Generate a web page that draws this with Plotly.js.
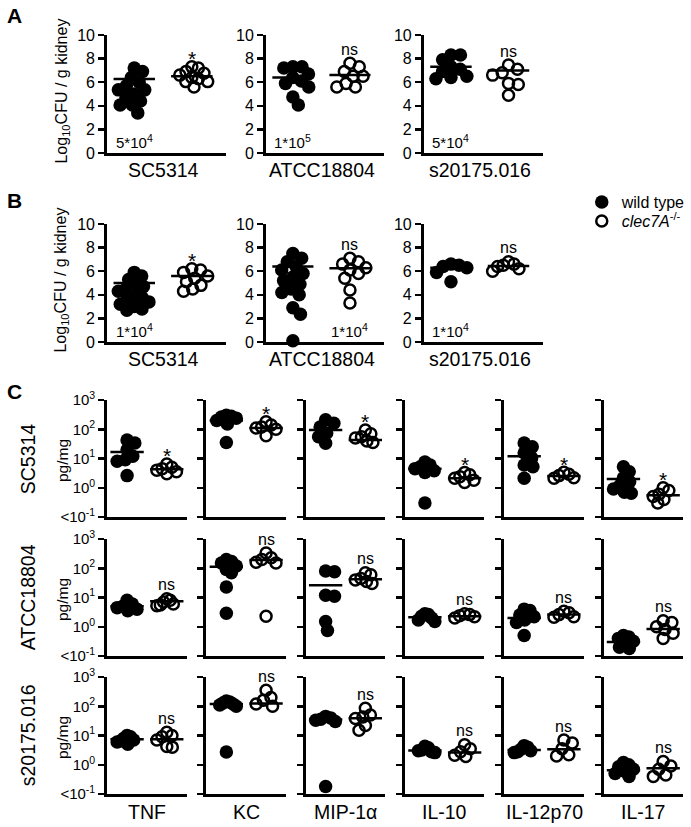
<!DOCTYPE html>
<html><head><meta charset="utf-8">
<script src="https://cdn.plot.ly/plotly-3.0.1.min.js"></script>
<style>html,body{margin:0;padding:0;background:#fff}#chart{width:691px;height:827px}</style>
</head><body><div id="chart"></div>
<script>
// ================= DATA =================
const groupNames = ['wild type', '<i>clec7A</i><sup>-/-</sup>'];
const strainsAB = ['SC5314', 'ATCC18804', 's20175.016'];
const doseA = ['5*10<sup>4</sup>', '1*10<sup>5</sup>', '5*10<sup>4</sup>'];
const doseB = ['1*10<sup>4</sup>', '1*10<sup>4</sup>', '1*10<sup>4</sup>'];
const sigA = ['*', 'ns', 'ns'];
const sigB = ['*', 'ns', 'ns'];

// Panel A: Log10 CFU / g kidney
const A_wt = [
  [7.2, 6.9, 6.4, 6.0, 5.7, 5.35, 5.35, 5.0, 4.7, 4.4, 4.07, 4.07, 3.4],
  [7.3, 7.3, 7.2, 6.7, 6.4, 6.1, 5.9, 5.6, 4.75, 4.07],
  [8.3, 8.3, 7.9, 7.3, 7.1, 6.9, 6.5, 6.4, 6.3]
];
const A_ko = [
  [7.3, 7.2, 6.9, 6.75, 6.6, 6.4, 6.3, 6.05, 6.05, 5.6],
  [7.6, 7.3, 6.9, 6.5, 6.5, 5.9, 5.6, 5.6],
  [7.45, 7.1, 6.8, 6.6, 5.9, 5.8, 4.9]
];
const A_wtMean = [6.27, 6.4, 7.3];
const A_koMean = [6.5, 6.6, 7.0];

// Panel B
const B_wt = [
  [5.9, 5.6, 5.3, 5.0, 4.7, 4.5, 4.3, 4.0, 3.8, 3.6, 3.4, 3.2, 3.0, 2.8, 2.7],
  [7.5, 7.1, 6.8, 6.4, 6.1, 5.8, 5.5, 5.2, 4.9, 4.5, 4.2, 4.0, 2.9, 2.35, 0.1],
  [6.6, 6.5, 6.4, 6.3, 5.9, 5.1]
];
const B_ko = [
  [6.2, 6.1, 5.9, 5.6, 5.4, 5.1, 4.8, 4.5, 4.3],
  [7.1, 6.8, 6.6, 6.3, 6.1, 5.8, 5.4, 4.4, 3.3],
  [6.8, 6.6, 6.5, 6.4, 6.2, 6.0]
];
const B_wtMean = [5.0, 6.4, 6.3];
const B_koMean = [5.6, 6.25, 6.45];

// Panel C: cytokines, pg/mg
const cytokines = ['TNF', 'KC', 'MIP-1α', 'IL-10', 'IL-12p70', 'IL-17'];
const strainsC = ['SC5314', 'ATCC18804', 's20175.016'];

const C_wt_SC5314 = [[43, 34, 20, 12, 9, 8, 2.6], [300, 280, 260, 240, 200, 150, 35], [210, 160, 120, 74, 55, 33], [7.6, 6, 5.2, 4.5, 3.8, 3.3, 0.3], [34, 25, 15.5, 10.5, 6, 5.2, 2.1], [5.2, 3.5, 2.2, 1.6, 1.2, 0.9, 0.7, 0.65]];
const C_ko_SC5314 = [[6.5, 5, 4.5, 4, 3.5, 3], [180, 140, 120, 110, 100, 60], [95, 70, 55, 50, 40, 35], [3.3, 2.8, 2.4, 2.1, 1.8, 1.5], [3.4, 2.9, 2.6, 2.2, 2.1], [1.0, 0.8, 0.6, 0.5, 0.4, 0.3]];
const C_wtMean_SC5314 = [16.6, 200, 95, 4.5, 12, 2.0];
const C_koMean_SC5314 = [4.3, 110, 43, 2.1, 2.5, 0.55];
const C_sig_SC5314 = ['*', '*', '*', '*', '*', '*'];

const C_wt_ATCC = [[8, 6, 5, 4.5, 4, 3.5], [200, 170, 150, 120, 90, 70, 23, 2.9], [80, 76, 12, 11, 1.5, 0.75], [2.8, 2.6, 2.3, 2.0, 1.7, 1.5], [4, 3.6, 2.5, 2.2, 1.7, 1.4, 0.5], [0.5, 0.45, 0.4, 0.32, 0.25, 0.2, 0.18]];
const C_ko_ATCC = [[9, 8, 7, 6, 5.5, 5.2], [330, 230, 200, 160, 150, 2.3], [70, 60, 45, 40, 35, 30], [2.8, 2.6, 2.4, 2.2, 2.0], [3.4, 3, 2.6, 2.2, 2.1], [1.6, 1.4, 1.0, 0.8, 0.6, 0.4]];
const C_wtMean_ATCC = [5, 112, 26, 2.1, 2, 0.3];
const C_koMean_ATCC = [7.5, 190, 42, 2.3, 2.6, 0.83];
const C_sig_ATCC = ['ns', 'ns', 'ns', 'ns', 'ns', 'ns'];

const C_wt_s20175 = [[10, 9, 8, 7, 6.5, 6, 5], [150, 140, 130, 120, 110, 100, 2.75], [45, 40, 36, 33, 30, 0.18], [4.3, 3.8, 3.2, 3.0, 2.8, 2.6], [4.5, 4, 3.4, 3, 2.8, 2.6], [1.2, 1.0, 0.85, 0.7, 0.6, 0.5, 0.4]];
const C_ko_s20175 = [[13, 10, 9, 7, 4.2, 4], [350, 200, 160, 120, 100], [85, 50, 43, 38, 22, 15], [4.8, 3.5, 2.8, 2.1, 1.9], [7, 5.5, 3.5, 2.2, 2.0], [1.3, 0.9, 0.7, 0.45, 0.4]];
const C_wtMean_s20175 = [7.5, 120, 35, 3.1, 3.2, 0.65];
const C_koMean_s20175 = [7.4, 125, 39, 2.6, 3.4, 0.76];
const C_sig_s20175 = ['ns', 'ns', 'ns', 'ns', 'ns', 'ns'];

// ================= LAYOUT / DRAWING =================
const W = 691, H = 827;
const FONT = 'Liberation Sans, Arial, Helvetica, sans-serif';
const BLACK = '#000';
const abX = [[108, 228], [268, 387], [427, 547]];
const aY = [35, 153], bY = [224, 342];
const cY = [[400, 517], [539, 656], [677, 794]];
const cX = k => [108 + 100 * k, 188 + 100 * k];
const doseCat = {A: [0, 0, 0], B: [0, 1, 0]};

const layout = {
  width: W, height: H, margin: {l: 0, r: 0, t: 0, b: 0}, autosize: false,
  paper_bgcolor: '#fff', plot_bgcolor: 'rgba(0,0,0,0)',
  font: {family: FONT, color: BLACK, size: 15},
  hovermode: false, showlegend: true, annotations: [],
  legend: {x: 586 / W, y: 1 - 185 / H, xanchor: 'left', yanchor: 'top', bgcolor: 'rgba(0,0,0,0)', borderwidth: 0, font: {size: 16, family: FONT}},
  legend2: {x: 586 / W, y: 1 - 204 / H, xanchor: 'left', yanchor: 'top', bgcolor: 'rgba(0,0,0,0)', borderwidth: 0, font: {size: 16, family: FONT}}
};
const traces = [];
let n = 0;

// beeswarm layout of point offsets (px), then compressed to a maximum half-width
function swarm(vals, yPx, minD, lim) {
  const pts = [], offs = [];
  vals.forEach(v => {
    const y = yPx(v);
    const cands = [0];
    pts.forEach(p => {
      const dy = Math.abs(p.y - y);
      if (dy < minD) { const dx = Math.sqrt(minD * minD - dy * dy); cands.push(p.x + dx, p.x - dx); }
    });
    cands.sort((a, b) => Math.abs(a) - Math.abs(b));
    const c = cands.find(c => pts.every(p => (p.x - c) ** 2 + (p.y - y) ** 2 >= minD * minD - 1e-6));
    pts.push({x: c, y: y}); offs.push(c);
  });
  const mx = Math.max(...offs.map(Math.abs));
  return mx > lim ? offs.map(o => o * lim / mx) : offs;
}

function addPanel(xpx, ypx, isLog, wt, ko, wtM, koM, sig, showLabels, legendFirst) {
  n++;
  const s = n === 1 ? '' : String(n);
  const xr = isLog ? [-0.5, 1.5] : [-0.47, 1.6];
  const yr = isLog ? [-1, 3] : [0, 10];
  layout['xaxis' + s] = {domain: [xpx[0] / W, xpx[1] / W], range: xr, anchor: 'y' + s, showline: true, linewidth: 3, linecolor: BLACK,
    ticks: '', showticklabels: false, showgrid: false, zeroline: false, fixedrange: true};
  const ya = {domain: [1 - ypx[1] / H, 1 - ypx[0] / H], range: yr, type: isLog ? 'log' : 'linear', anchor: 'x' + s,
    showline: true, linewidth: 3, linecolor: BLACK, ticks: 'outside', ticklen: 6, tickwidth: 2.5, tickcolor: BLACK,
    showgrid: false, zeroline: false, fixedrange: true, showticklabels: showLabels,
    tickfont: {size: isLog ? 15 : 16, family: FONT, color: BLACK}};
  if (isLog) {
    ya.tickvals = [0.1, 1, 10, 100, 1000];
    ya.ticktext = ['<10<sup>-1</sup>', '10<sup>0</sup>', '10<sup>1</sup>', '10<sup>2</sup>', '10<sup>3</sup>'];
  } else {
    ya.tickvals = [0, 2, 4, 6, 8, 10];
  }
  layout['yaxis' + s] = ya;
  const pxX = (xpx[1] - xpx[0]) / (xr[1] - xr[0]);
  const pxY = (ypx[1] - ypx[0]) / (yr[1] - yr[0]);
  const yPx = v => (isLog ? Math.log10(v) : v) * pxY;
  const minD = isLog ? 9 : 10;
  const lim = isLog ? 10 : 16;
  [[wt, 0], [ko, 1]].forEach(([vals, cat]) => {
    const offs = swarm(vals, yPx, minD, lim);
    const tr = {type: 'scatter', mode: 'markers', x: offs.map(o => cat + o / pxX), y: vals,
      xaxis: 'x' + s, yaxis: 'y' + s, cliponaxis: false, hoverinfo: 'skip',
      name: groupNames[cat], showlegend: !!legendFirst, legend: cat === 0 ? 'legend' : 'legend2',
      marker: cat === 0 ? {symbol: 'circle', size: 13.5, color: BLACK, line: {width: 0}}
                        : {symbol: 'circle-open', size: 11, color: BLACK, line: {width: 2.5, color: BLACK}}};
    traces.push(tr);
  });
  const hw = isLog ? 0.42 : 0.36;
  [[wtM, 0], [koM, 1]].forEach(([m, cat]) => {
    traces.push({type: 'scatter', mode: 'lines', x: [cat - hw, cat + hw], y: [m, m], xaxis: 'x' + s, yaxis: 'y' + s,
      line: {color: BLACK, width: 2.5}, showlegend: false, hoverinfo: 'skip', cliponaxis: false});
  });
  const topKo = Math.max(...ko);
  const star = sig === '*';
  layout.annotations.push({text: sig, xref: 'x' + s, yref: 'y' + s, x: 1, y: isLog ? Math.log10(topKo) : topKo,
    yanchor: 'middle', yshift: star ? 8 : 14, showarrow: false, font: {size: star ? 21 : 16, family: FONT, color: BLACK}});
  return s;
}

function ann(text, xp, yp, opt) {
  layout.annotations.push(Object.assign({text: text, xref: 'paper', yref: 'paper', x: xp / W, y: 1 - yp / H,
    xanchor: 'center', yanchor: 'middle', showarrow: false, font: {size: 16, family: FONT, color: BLACK}}, opt || {}));
}

// Panel A and B
[['A', aY, A_wt, A_ko, A_wtMean, A_koMean, sigA, doseA], ['B', bY, B_wt, B_ko, B_wtMean, B_koMean, sigB, doseB]].forEach(p => {
  const [key, ypx, wt, ko, wm, km, sig, dose] = p;
  strainsAB.forEach((st, i) => {
    const s = addPanel(abX[i], ypx, false, wt[i], ko[i], wm[i], km[i], sig[i], true, key === 'A' && i === 0);
    layout.annotations.push({text: dose[i], xref: 'x' + s, yref: 'y' + s, x: doseCat[key][i], y: key === 'A' ? 1.0 : 0.95,
      xanchor: 'center', yanchor: 'middle', showarrow: false, font: {size: 15, family: FONT, color: BLACK}});
    ann(st, (abX[i][0] + abX[i][1]) / 2 - 3, ypx[1] + 17, {font: {size: 19.5, family: FONT, color: BLACK}});
  });
  ann('Log<sub>10</sub>CFU / g kidney', 62, (ypx[0] + ypx[1]) / 2 - 3, {textangle: -90, font: {size: 16, family: FONT, color: BLACK}});
  ann('<b>' + key + '</b>', 5, key === 'A' ? 15 : 201, {xanchor: 'left', font: {size: 21, family: FONT, color: BLACK}});
});

// Panel C
const C_rows = [
  [C_wt_SC5314, C_ko_SC5314, C_wtMean_SC5314, C_koMean_SC5314, C_sig_SC5314],
  [C_wt_ATCC, C_ko_ATCC, C_wtMean_ATCC, C_koMean_ATCC, C_sig_ATCC],
  [C_wt_s20175, C_ko_s20175, C_wtMean_s20175, C_koMean_s20175, C_sig_s20175]
];
C_rows.forEach((row, r) => {
  const [wt, ko, wm, km, sig] = row;
  cytokines.forEach((cy, k) => {
    addPanel(cX(k), cY[r], true, wt[k], ko[k], wm[k], km[k], sig[k], k === 0, false);
  });
  ann(strainsC[r], 28, (cY[r][0] + cY[r][1]) / 2, {textangle: -90, font: {size: 19.5, family: FONT, color: BLACK}});
  ann('pg/mg', 63, (cY[r][0] + cY[r][1]) / 2 + 2, {textangle: -90, font: {size: 15.5, family: FONT, color: BLACK}});
});
cytokines.forEach((cy, k) => {
  const xr = cX(k);
  ann(cy, (xr[0] + xr[1]) / 2, cY[2][1] + 18, {font: {size: 19.5, family: FONT, color: BLACK}});
});
ann('<b>C</b>', 5, 391, {xanchor: 'left', font: {size: 21, family: FONT, color: BLACK}});

Plotly.newPlot('chart', traces, layout, {staticPlot: true, displayModeBar: false});
</script>
</body></html>
